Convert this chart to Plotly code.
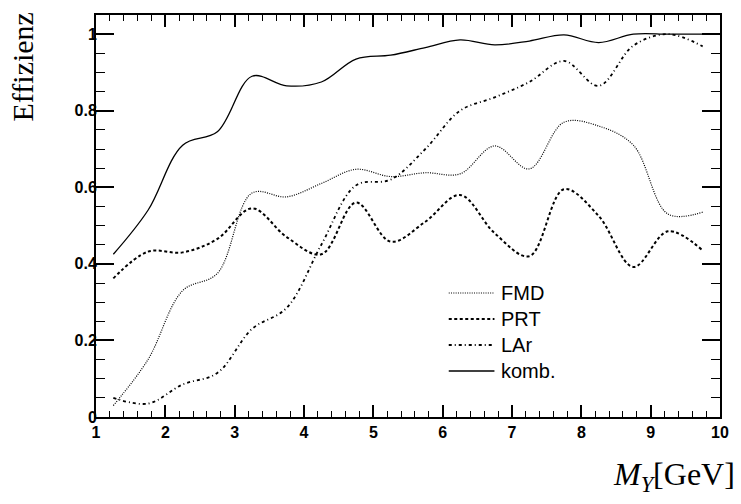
import plotly.graph_objects as go

mass = [1.25, 1.75, 2.25, 2.75, 3.25, 3.75, 4.25, 4.75, 5.25, 5.75,
        6.25, 6.75, 7.25, 7.75, 8.25, 8.75, 9.25, 9.75]

fmd = [0.03, 0.15, 0.33, 0.375, 0.585, 0.575, 0.61, 0.647, 0.628, 0.638,
       0.635, 0.708, 0.648, 0.77, 0.76, 0.71, 0.53, 0.535]
prt = [0.362, 0.432, 0.43, 0.465, 0.545, 0.47, 0.425, 0.56, 0.458, 0.51,
       0.58, 0.48, 0.42, 0.595, 0.525, 0.392, 0.485, 0.435]
lar = [0.05, 0.035, 0.085, 0.115, 0.23, 0.285, 0.45, 0.605, 0.62, 0.70,
       0.80, 0.835, 0.875, 0.93, 0.865, 0.97, 1.0, 0.968]
komb = [0.425, 0.54, 0.71, 0.745, 0.89, 0.865, 0.875, 0.935, 0.945, 0.965,
        0.985, 0.972, 0.982, 0.998, 0.978, 1.0, 1.0, 1.0]

x_tickvals = [1, 2, 3, 4, 5, 6, 7, 8, 9, 10]
x_ticklabels = ["1", "2", "3", "4", "5", "6", "7", "8", "9", "10"]
y_tickvals = [0, 0.2, 0.4, 0.6, 0.8, 1.0]
y_ticklabels = ["0", "0.2", "0.4", "0.6", "0.8", "1"]

series = [
    ("FMD", fmd, dict(color="black", width=1.2, dash="1px,1.3px")),
    ("PRT", prt, dict(color="black", width=2.0, dash="3px,2.5px")),
    ("LAr", lar, dict(color="black", width=1.8, dash="3px,3px,1px,3px")),
    ("komb.", komb, dict(color="black", width=1.3)),
]

fig = go.Figure()
for name, vals, line in series:
    fig.add_trace(go.Scatter(x=mass, y=vals, mode="lines", name=name,
                             showlegend=False,
                             line=dict(shape="spline", smoothing=1, **line)))

# legend drawn in paper coordinates (plot area: x 96..724 px, y 15..417 px)
def px_x(p):
    return (p - 96) / 628.0

def px_y(p):
    return (417 - p) / 402.0

legend_rows = [293, 319, 345, 371]
shapes = []
annotations = []
for (name, vals, line), row in zip(series, legend_rows):
    shapes.append(dict(type="line", xref="paper", yref="paper",
                       x0=px_x(451), x1=px_x(497), y0=px_y(row), y1=px_y(row),
                       line=line))
    annotations.append(dict(text=name, xref="paper", yref="paper",
                            x=px_x(502), y=px_y(row), xanchor="left",
                            yanchor="middle", showarrow=False,
                            font=dict(family="Liberation Sans", size=20,
                                      color="black")))

annotations += [
    dict(text="Effizienz", xref="paper", yref="paper", x=px_x(23), y=px_y(67),
         xanchor="center", yanchor="middle", textangle=-90, showarrow=False,
         font=dict(family="Liberation Serif", size=30, color="black")),
    dict(text="<i>M</i><sub><i>Y</i></sub>[GeV]", xref="paper", yref="paper",
         x=px_x(741), y=px_y(476), xanchor="right", yanchor="middle",
         showarrow=False,
         font=dict(family="Liberation Serif", size=32, color="black")),
]

tickfont = dict(family="Liberation Sans", size=16, color="black", weight="bold")

fig.update_layout(
    width=741, height=504,
    margin=dict(l=96, r=17, t=15, b=87),
    paper_bgcolor="white", plot_bgcolor="white",
    showlegend=False,
    xaxis=dict(range=[1, 10], tickvals=x_tickvals,
               ticktext=["<b>%s</b>" % t for t in x_ticklabels],
               ticks="inside", ticklen=12,
               tickwidth=1.5, tickcolor="black", showline=True, linecolor="black",
               linewidth=2, mirror="ticks", showgrid=False, zeroline=False,
               tickfont=tickfont,
               minor=dict(dtick=0.2, tick0=1, ticks="inside", ticklen=6,
                          tickwidth=1.2, tickcolor="black", showgrid=False)),
    yaxis=dict(range=[0, 1.05], tickvals=y_tickvals,
               ticktext=["<b>%s</b>" % t for t in y_ticklabels],
               ticks="inside", ticklen=18, ticklabelstandoff=-6,
               tickwidth=1.5, tickcolor="black", showline=True, linecolor="black",
               linewidth=2, mirror="ticks", showgrid=False, zeroline=False,
               tickfont=tickfont,
               minor=dict(dtick=0.05, tick0=0, ticks="inside", ticklen=9,
                          tickwidth=1.2, tickcolor="black", showgrid=False)),
    shapes=shapes,
    annotations=annotations,
)

fig.write_html("out.html")
